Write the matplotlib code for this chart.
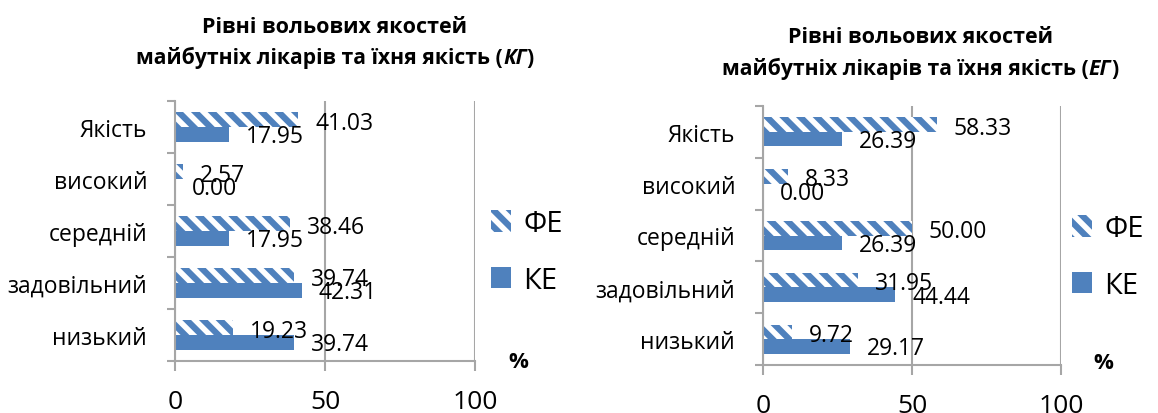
import numpy as np
import matplotlib
matplotlib.use("Agg")
import matplotlib.pyplot as plt
from matplotlib.patches import Patch

plt.rcParams['font.family'] = ['Open Sans', 'DejaVu Sans']
plt.rcParams['hatch.linewidth'] = 4.5
plt.rcParams['hatch.color'] = '#4F81BD'

# дані з діаграм
categories = ["Якість", "високий", "середній", "задовільний", "низький"]
fe_kg = [41.03, 2.57, 38.46, 39.74, 19.23]
ke_kg = [17.95, 0.00, 17.95, 42.31, 39.74]
fe_eg = [58.33, 8.33, 50.00, 31.95, 9.72]
ke_eg = [26.39, 0.00, 26.39, 44.44, 29.17]
x_ticks = [0, 50, 100]
series_names = ["ФЕ", "КЕ"]
title_line1 = "Рівні вольових якостей"
title_line2 = "майбутніх лікарів та їхня якість ("
group_codes = ["КГ", "ЕГ"]

BLUE = '#4F81BD'
GRID = '#A6A6A6'
HATCH = '\\\\'
W, H = 1158, 414


def px_box(x0, y0, x1, y1):
    return [x0 / W, 1 - y1 / H, (x1 - x0) / W, (y1 - y0) / H]


def draw_panel(ax, fe, ke):
    y = np.arange(len(categories))
    ax.barh(y - 0.14, fe, height=0.28, color='white', edgecolor=BLUE,
            hatch=HATCH, linewidth=0)
    ax.barh(y + 0.14, ke, height=0.28, color=BLUE, linewidth=0)
    for yi, v in zip(y, fe):
        ax.annotate(f"{v:.2f}", (v, yi - 0.14), xytext=(17, -3),
                    textcoords='offset pixels', va='center', ha='left', fontsize=16.5)
    for yi, v in zip(y, ke):
        ax.annotate(f"{v:.2f}", (v, yi + 0.14), xytext=(17, -2),
                    textcoords='offset pixels', va='center', ha='left', fontsize=16.5)

    ax.set_xlim(0, 100)
    ax.set_ylim(len(categories) - 0.5, -0.5)
    ax.set_xticks(x_ticks)
    ax.set_xticklabels([str(t) for t in x_ticks], fontsize=19)
    ax.set_yticks(np.arange(len(categories) + 1) - 0.5)
    ax.set_yticklabels([])
    ax.set_yticks(y, minor=True)
    ax.set_yticklabels(categories, minor=True, fontsize=16.5)
    ax.tick_params(axis='y', which='major', length=6, color=GRID, width=1.5)
    ax.tick_params(axis='y', which='minor', length=0, pad=20)
    ax.tick_params(axis='x', length=7, color=GRID, width=1.5, pad=13)
    ax.grid(axis='x', color=GRID, linewidth=1.5)
    ax.set_axisbelow(True)
    for s in ['top', 'right']:
        ax.spines[s].set_visible(False)
    for s in ['left', 'bottom']:
        ax.spines[s].set_color(GRID)
        ax.spines[s].set_linewidth(1.5)


fig = plt.figure(figsize=(W / 100, H / 100), dpi=100)
ax1 = fig.add_axes(px_box(175, 102, 475, 362))
ax2 = fig.add_axes(px_box(763, 107, 1061, 366))
draw_panel(ax1, fe_kg, ke_kg)
draw_panel(ax2, fe_eg, ke_eg)

handles = [Patch(facecolor='white', edgecolor=BLUE, hatch=HATCH, linewidth=0),
           Patch(facecolor=BLUE, linewidth=0)]
for lx, ly in [(491, 210), (1072, 215)]:
    fig.legend(handles, series_names, loc='upper left',
               bbox_to_anchor=(lx / W, 1 - ly / H), frameon=False, fontsize=21,
               handlelength=0.7, handleheight=0.75, handletextpad=0.4,
               labelspacing=0.95, borderaxespad=0, borderpad=0)

fig.text(518 / W, 1 - 363 / H, "%", ha='center', va='center', fontsize=16, weight='bold')
fig.text(1103 / W, 1 - 364 / H, "%", ha='center', va='center', fontsize=16, weight='bold')

# заголовки, курсивна частина окремим текстом
fig.canvas.draw()
renderer = fig.canvas.get_renderer()
for cx, base1, base2, code in [(335, 33, 64, group_codes[0]), (920, 43, 75, group_codes[1])]:
    fig.text(cx / W, 1 - base1 / H, title_line1, ha='center', va='baseline',
             fontsize=15.5, weight='bold')
    parts = [fig.text(0, 1 - base2 / H, title_line2, va='baseline', fontsize=15.2, weight='bold'),
             fig.text(0, 1 - base2 / H, code, va='baseline', fontsize=15.2, weight='bold', style='italic'),
             fig.text(0, 1 - base2 / H, ")", va='baseline', fontsize=15.2, weight='bold')]
    widths = [p.get_window_extent(renderer).width for p in parts]
    x = cx - sum(widths) / 2
    for p, w in zip(parts, widths):
        p.set_x(x / W)
        x += w

fig.savefig("out.png", dpi=100)
